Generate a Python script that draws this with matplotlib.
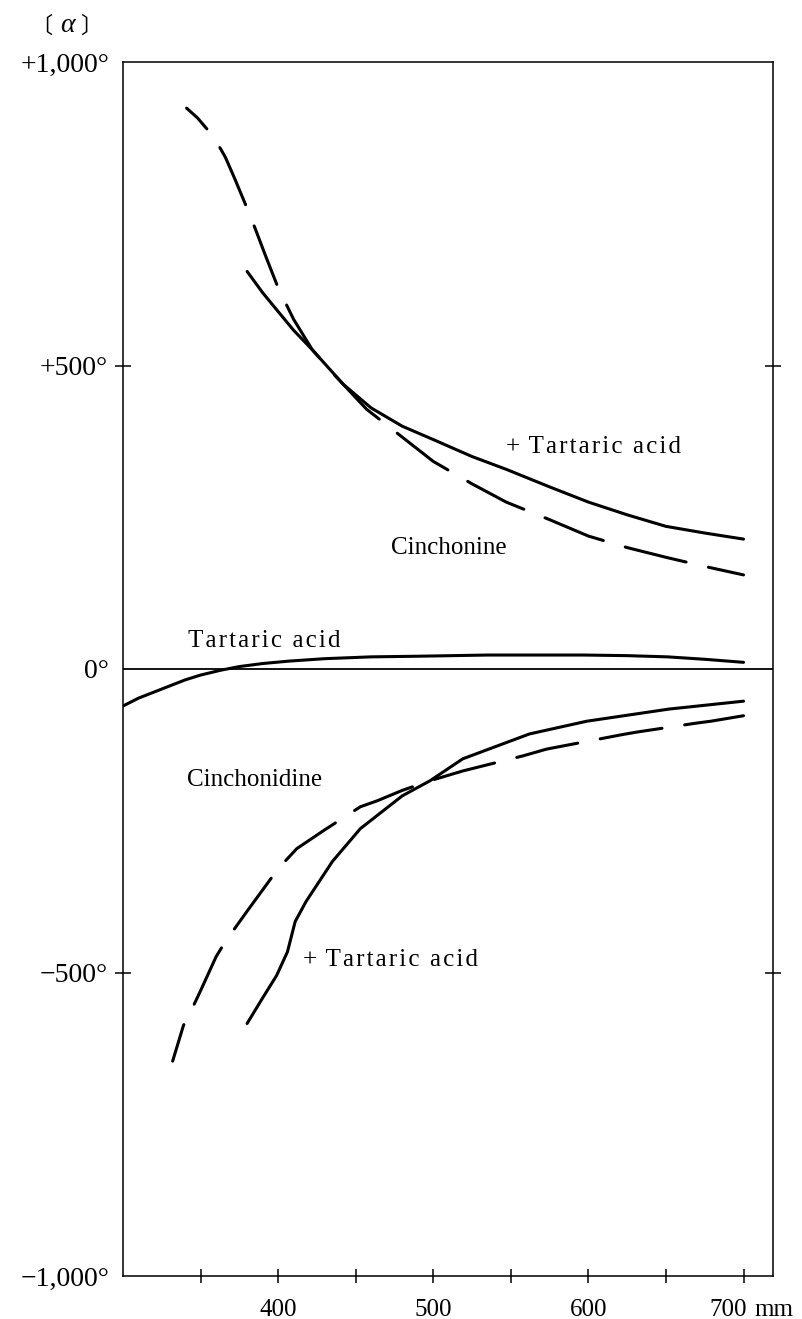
import matplotlib.pyplot as plt
from matplotlib.transforms import ScaledTranslation

plt.rcParams['font.family'] = ['Liberation Serif', 'DejaVu Serif']

# wavelength [nm] -> specific rotation [alpha] [deg]
cinchonineX = [341, 348, 354, 360, 366, 372, 379, 385, 392, 400, 410, 422, 435, 457,
               480, 500, 525, 547, 575, 600, 625, 650, 675, 700]
cinchonineY = [924, 908, 890, 870, 843, 808, 765, 727, 680, 628, 576, 526, 488, 428,
               382, 342, 305, 275, 246, 219, 200, 184, 169, 155]

cinchonineTartX = [380, 390, 399, 410, 422, 442, 460, 480, 500, 525, 547, 575, 600, 625, 650, 675, 700]
cinchonineTartY = [655, 620, 592, 558, 526, 469, 430, 400, 378, 350, 329, 300, 275, 254, 235, 224, 214]

tartaricX = [300, 310, 325, 340, 350, 363, 375, 390, 407, 430, 460, 489, 535, 565, 597, 625, 651, 675, 700]
tartaricY = [-61, -48, -33, -18, -10, -2, 4, 9, 13, 17, 20, 21, 23, 23, 23, 22, 20, 16, 11]

cinchonidineX = [332, 339, 343, 350, 360, 366, 380, 400, 412, 430, 453, 464, 480, 498,
                 519, 558, 573, 622, 631, 670, 679, 700]
cinchonidineY = [-646, -587, -568, -530, -474, -449, -399, -329, -296, -265, -227, -217, -200, -184,
                 -168, -143, -132, -108, -104, -89, -86, -77]

cinchonidineTartX = [380, 390, 399, 406, 411, 418, 435, 453, 480, 498, 519, 562, 599, 652, 700]
cinchonidineTartY = [-584, -542, -505, -466, -416, -383, -317, -263, -209, -184, -148, -107, -86, -66, -53]

xMajor = [400, 500, 600, 700]
xMajorLabels = ['400', '500', '600', '700']
xMinor = [350, 450, 550, 650]
yMajor = [-500, 500]
yMajorLabels = ['\u2212500°', '+500°']
yMinor = [-1000, 0, 1000]
yMinorLabels = ['\u22121,000°', '0°', '+1,000°']

HS = '\u200a'


def spaced(s):
    return HS.join(s)


fig = plt.figure(figsize=(8.03, 13.19), dpi=100)
W, H = 803, 1319
ax = fig.add_axes([123 / W, 1 - 1276 / H, 650 / W, 1214 / H])

lw = 2.2
dash = (20.5, 7.5)
style = dict(color='black', lw=lw, solid_capstyle='round', solid_joinstyle='round', dash_capstyle='round')
ax.plot(cinchonineX, cinchonineY, linestyle=(11, dash), **style)
ax.plot(cinchonineTartX, cinchonineTartY, **style)
ax.plot(tartaricX, tartaricY, **style)
ax.plot(cinchonidineX, cinchonidineY, linestyle=(8, dash), **style)
ax.plot(cinchonidineTartX, cinchonidineTartY, **style)
ax.axhline(0, color='black', lw=1.3)

ax.set_xlim(300, 719)
ax.set_ylim(-1000, 1000)
for s in ax.spines.values():
    s.set_linewidth(1.1)

ax.set_xticks(xMajor, labels=xMajorLabels)
ax.set_xticks(xMinor, minor=True)
ax.tick_params(axis='x', which='both', direction='inout', length=10, width=1.1, labelsize=18, pad=11.5)
ax.set_yticks(yMajor, labels=yMajorLabels)
ax.set_yticks(yMinor, labels=yMinorLabels, minor=True)
ax.tick_params(axis='y', which='major', direction='inout', length=11.5, width=1.1,
               left=True, right=True, labelsize=20, pad=5.5)
ax.tick_params(axis='y', which='minor', length=0, labelsize=20, pad=10)

# shift "700" a little left and put the unit after it
lab700 = ax.get_xticklabels()[-1]
lab700.set_transform(lab700.get_transform() + ScaledTranslation(-15 / 100, 0, fig.dpi_scale_trans))
ax.annotate('mm', xy=(700, 0), xycoords=('data', 'axes fraction'), xytext=(8, -16.5),
            textcoords='offset points', fontsize=18, ha='left', va='top')

# curve labels
fs = 18
plusTart = '+ ' + HS + spaced('Tartaric acid')
ax.text(547, 365, plusTart, fontsize=fs, ha='left', va='center')
ax.text(473, 200, 'Cinchonine', fontsize=fs, ha='left', va='center')
ax.text(342, 46, spaced('Tartaric acid'), fontsize=fs, ha='left', va='center')
ax.text(341, -183, 'Cinchonidine', fontsize=fs, ha='left', va='center')
ax.text(416, -479, plusTart, fontsize=fs, ha='left', va='center')

# axis title [alpha]
fig.text(52 / W, 1 - 26 / H, '\u3014', fontsize=16, family=['Noto Sans CJK JP'], ha='right', va='center')
fig.text(67 / W, 1 - 25 / H, '\u03b1', fontsize=20, style='italic', ha='center', va='center')
fig.text(80 / W, 1 - 26 / H, '\u3015', fontsize=16, family=['Noto Sans CJK JP'], ha='left', va='center')

fig.savefig('out.png', dpi=100)
